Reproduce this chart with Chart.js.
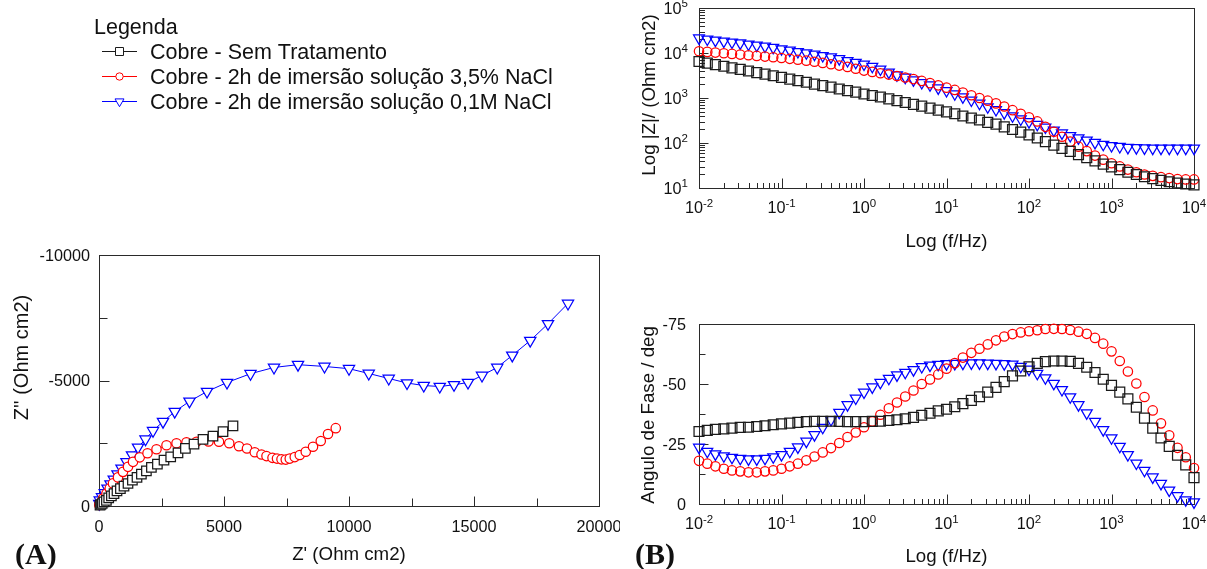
<!DOCTYPE html>
<html lang="pt">
<head>
<meta charset="utf-8">
<title>Cobre - Nyquist e Bode</title>
<script src="https://cdn.jsdelivr.net/npm/chart.js@4.4.1/dist/chart.umd.min.js"></script>
<style>
  html, body { margin: 0; padding: 0; background: #fff; }
  body { width: 1207px; height: 569px; position: relative; overflow: hidden; }
  canvas { position: absolute; display: block; }
</style>
</head>
<body>
<canvas id="nyquist" width="620" height="569" style="left:0;top:0"></canvas>
<canvas id="bodeMod" width="587" height="260" style="left:620px;top:0"></canvas>
<canvas id="bodePhase" width="587" height="269" style="left:620px;top:300px"></canvas>
<script>
// ---------- series ----------
const seriesNames = [
  'Cobre - Sem Tratamento',
  'Cobre - 2h de imersão solução 3,5% NaCl',
  'Cobre - 2h de imersão solução 0,1M NaCl'
];

// frequencies (Hz), 10 points per decade
const freq = [
  0.01, 0.0126, 0.0158, 0.02, 0.0251, 0.0316, 0.0398, 0.0501, 0.0631, 0.0794,
  0.1, 0.126, 0.158, 0.2, 0.251, 0.316, 0.398, 0.501, 0.631, 0.794,
  1, 1.26, 1.58, 2, 2.51, 3.16, 3.98, 5.01, 6.31, 7.94,
  10, 12.6, 15.8, 20, 25.1, 31.6, 39.8, 50.1, 63.1, 79.4,
  100, 126, 158, 200, 251, 316, 398, 501, 631, 794,
  1000, 1260, 1580, 2000, 2510, 3160, 3980, 5010, 6310, 7940,
  10000
];

// |Z| (Ohm cm2)
const modSem = [
  6460, 5960, 5500, 5070, 4680, 4320, 3980, 3670, 3390, 3130,
  2880, 2630, 2430, 2240, 2040, 1880, 1740, 1585, 1460, 1350,
  1230, 1135, 1050, 955, 871, 794, 724, 661, 596, 537,
  490, 447, 398, 359, 324, 288, 263, 229, 200, 174,
  151, 129, 107, 90, 76, 65, 55, 47, 40, 34,
  29.5, 25.7, 22.4, 20.0, 17.8, 16.2, 14.8, 13.8, 12.9, 12.3,
  11.7
];
const modNaCl35 = [
  10960, 10590, 10230, 9890, 9550, 9230, 8910, 8610, 8320, 8040,
  7760, 7410, 7080, 6760, 6380, 6030, 5620, 5250, 4900, 4470,
  4070, 3800, 3550, 3310, 3090, 2850, 2630, 2400, 2140, 1910,
  1700, 1510, 1320, 1150, 1000, 871, 759, 646, 537, 447,
  372, 302, 229, 178, 138, 107, 83, 66, 52.5, 42.7,
  35.5, 30.2, 25.7, 22.4, 20.0, 18.6, 17.4, 16.6, 15.8, 15.5,
  15.5
];
const modNaCl01 = [
  21400, 20200, 19100, 18200, 17400, 16600, 15700, 14800, 14100, 13200,
  12300, 11500, 10700, 10000, 9330, 8710, 8130, 7410, 6760, 6170,
  5620, 5010, 4370, 3720, 3240, 2880, 2510, 2190, 1950, 1660,
  1450, 1230, 1050, 891, 759, 631, 550, 468, 398, 339,
  295, 257, 224, 191, 166, 145, 129, 115, 102, 93,
  87, 83, 79, 78, 77, 76, 76, 76, 76, 76,
  76
];

// phase angle (deg)
const phaseSem = [
  -30.2, -30.7, -31.1, -31.3, -31.6, -31.9, -32.0, -32.3, -32.6, -33.0,
  -33.4, -33.7, -34.0, -34.3, -34.4, -34.5, -34.5, -34.4, -34.3, -34.3,
  -34.3, -34.4, -34.5, -34.8, -35.1, -35.5, -36.1, -37.0, -37.8, -38.8,
  -39.5, -40.5, -41.8, -43.2, -44.7, -46.6, -48.6, -51.0, -53.4, -55.4,
  -57.2, -58.6, -59.3, -59.6, -59.6, -59.4, -58.6, -57.0, -54.8, -52.0,
  -49.4, -46.6, -43.8, -40.3, -35.8, -31.6, -27.5, -24.0, -20.3, -16.3,
  -11.0
];
const phaseNaCl35 = [
  -18.0, -16.8, -15.7, -14.7, -14.0, -13.6, -13.2, -13.2, -13.6, -14.0,
  -14.7, -15.7, -16.8, -18.2, -19.8, -21.5, -23.3, -25.4, -27.9, -29.8,
  -32.0, -34.4, -37.2, -39.9, -42.3, -44.8, -47.3, -50.0, -51.9, -54.0,
  -56.4, -58.7, -61.0, -63.0, -64.7, -66.5, -68.2, -69.8, -70.8, -71.5,
  -72.0, -72.4, -72.9, -73.0, -72.9, -72.5, -71.8, -70.9, -69.2, -66.8,
  -63.6, -59.6, -55.2, -50.2, -44.6, -39.0, -33.6, -28.6, -23.4, -19.5,
  -15.0
];
const phaseNaCl01 = [
  -23.6, -21.9, -20.8, -20.0, -19.4, -19.0, -18.7, -18.7, -19.0, -19.6,
  -20.5, -21.9, -23.7, -26.1, -28.8, -31.9, -35.1, -38.1, -41.3, -44.1,
  -46.6, -48.7, -50.6, -52.3, -53.7, -54.8, -55.9, -57.2, -57.8, -58.1,
  -58.4, -58.5, -58.6, -58.7, -58.7, -58.6, -58.5, -58.4, -58.2, -57.3,
  -56.1, -54.4, -52.5, -50.2, -47.6, -44.6, -41.3, -37.9, -34.4, -30.9,
  -27.5, -24.0, -20.5, -17.0, -14.0, -11.2, -8.5, -5.7, -3.4, -1.7,
  -0.8
];

// Nyquist: Z' and Z'' (Ohm cm2), high to low frequency
const reSem = [40, 80, 130, 200, 296, 388, 496, 600, 720, 856, 1000, 1160, 1336, 1520, 1696, 1896, 2096, 2336, 2600, 2868, 3160, 3456, 3800, 4160, 4560, 4960, 5360];
const imSem = [-30, -60, -100, -160, -228, -320, -400, -496, -600, -696, -788, -896, -1028, -1136, -1268, -1400, -1536, -1668, -1828, -1960, -2120, -2296, -2468, -2656, -2788, -2960, -3188];
const reNaCl35 = [10, 30, 160, 300, 430, 560, 760, 960, 1160, 1360, 1630, 1940, 2300, 2700, 3100, 3500, 3900, 4380, 4800, 5210, 5600, 5920, 6230, 6500, 6700, 6940, 7120, 7300, 7470, 7630, 7830, 8030, 8270, 8560, 8870, 9160, 9470];
const imNaCl35 = [-40, -100, -300, -500, -700, -900, -1140, -1360, -1560, -1760, -1940, -2100, -2260, -2420, -2500, -2540, -2560, -2570, -2560, -2500, -2380, -2290, -2140, -2050, -1990, -1920, -1890, -1860, -1850, -1890, -1950, -2030, -2160, -2360, -2590, -2870, -3100];
const reNaCl01 = [10, 30, 120, 230, 340, 460, 590, 740, 900, 1100, 1320, 1560, 1860, 2160, 2560, 3030, 3620, 4320, 5120, 6060, 7000, 7960, 9020, 10000, 10790, 11590, 12320, 12990, 13630, 14200, 14760, 15320, 15930, 16530, 17250, 17960, 18760];
const imNaCl01 = [-90, -230, -360, -520, -700, -870, -1060, -1270, -1500, -1760, -2030, -2340, -2660, -3000, -3360, -3760, -4170, -4560, -4920, -5270, -5520, -5630, -5560, -5470, -5280, -5080, -4900, -4800, -4760, -4830, -4920, -5200, -5520, -6000, -6590, -7260, -8070];

// axis ticks
const nyqXTicks = [0, 5000, 10000, 15000, 20000];
const nyqYTicks = [0, -5000, -10000];
const freqTicks = [0.01, 0.1, 1, 10, 100, 1000, 10000];
const modTicks = [10, 100, 1000, 10000, 100000];
const phaseTicks = [0, -25, -50, -75];

// ---------- styling ----------
const FAMILY = '"Liberation Sans", Arial, sans-serif';
const AXIS = '#2a2a2a';
const TXT = '#111';
const TICK_FONT = '16.2px ' + FAMILY;
const SUP_FONT = '11.5px ' + FAMILY;
const TITLE_FONT = '18.7px ' + FAMILY;

Chart.defaults.font.family = FAMILY;
Chart.defaults.animation = false;

const STYLES = [
  { color: '#1a1a1a', point: 'rect',     rot: 0,   rNyq: 6.7, rBode: 7.0 },
  { color: '#ff0000', point: 'circle',   rot: 0,   rNyq: 4.7, rBode: 4.7 },
  { color: '#0000ff', point: 'triangle', rot: 180, rNyq: 6.5, rBode: 6.3 }
];

function pts(xs, ys) { return xs.map((x, i) => ({ x: x, y: ys[i] })); }

function dataset(i, data, nyq) {
  const s = STYLES[i];
  return {
    label: seriesNames[i],
    data: data,
    showLine: nyq,
    borderColor: s.color,
    borderWidth: 1,
    pointStyle: s.point,
    pointRotation: s.rot,
    pointRadius: nyq ? s.rNyq : s.rBode,
    pointHoverRadius: nyq ? s.rNyq : s.rBode,
    pointBorderColor: s.color,
    pointBorderWidth: 1.25,
    pointBackgroundColor: nyq ? '#ffffff' : 'rgba(0,0,0,0)',
    clip: false,
    tension: 0
  };
}

function hiddenScale(extra, fit) {
  return Object.assign({
    ticks: { display: false },
    grid: { display: false },
    border: { display: false },
    title: { display: false },
    afterFit: fit
  }, extra);
}

function logMinors(majors) {
  const out = [];
  for (let k = 0; k < majors.length - 1; k++)
    for (let m = 2; m <= 9; m++) out.push(majors[k] * m);
  return out;
}
function midpoints(majors) {
  const s = majors.slice().sort((a, b) => a - b), out = [];
  for (let k = 0; k < s.length - 1; k++) out.push((s[k] + s[k + 1]) / 2);
  return out;
}

// frame box, inward ticks and text drawn from the chart's scales
function decor(cfg) {
  return {
    id: 'decor',
    beforeDatasetsDraw(chart) {
      const { ctx, chartArea: a, scales: { x, y } } = chart;
      const L = Math.round(a.left) + 0.5, R = Math.round(a.right) + 0.5;
      const T = Math.round(a.top) + 0.5, B = Math.round(a.bottom) + 0.5;
      ctx.save();
      ctx.strokeStyle = AXIS;
      ctx.lineWidth = 1;
      ctx.strokeRect(L, T, R - L, B - T);
      ctx.beginPath();
      const tx = (vals, len) => vals.forEach(v => {
        const p = Math.round(x.getPixelForValue(v)) + 0.5;
        ctx.moveTo(p, B); ctx.lineTo(p, B - len);
      });
      const ty = (vals, len) => vals.forEach(v => {
        const p = Math.round(y.getPixelForValue(v)) + 0.5;
        ctx.moveTo(L, p); ctx.lineTo(L + len, p);
      });
      tx(cfg.xMajor, cfg.xMajorLen); tx(cfg.xMinor, cfg.xMinorLen);
      ty(cfg.yMajor, cfg.yMajorLen); ty(cfg.yMinor, cfg.yMinorLen);
      ctx.stroke();
      ctx.restore();
    },
    afterDraw(chart) {
      const ctx = chart.ctx;
      ctx.save();
      ctx.fillStyle = TXT;
      ctx.textBaseline = 'alphabetic';
      cfg.text(chart, ctx);
      ctx.restore();
    }
  };
}

function powerLabel(ctx, value, anchorX, baseline, align) {
  const exp = String(Math.round(Math.log10(value)));
  ctx.font = TICK_FONT; const w1 = ctx.measureText('10').width;
  ctx.font = SUP_FONT; const w2 = ctx.measureText(exp).width;
  const x0 = align === 'center' ? anchorX - (w1 + w2) / 2 : anchorX - (w1 + w2);
  ctx.textAlign = 'left';
  ctx.font = TICK_FONT; ctx.fillText('10', x0, baseline);
  ctx.font = SUP_FONT; ctx.fillText(exp, x0 + w1, baseline - 6.5);
}

function verticalTitle(ctx, text, baseX, centerY, font) {
  ctx.save();
  ctx.translate(baseX, centerY);
  ctx.rotate(-Math.PI / 2);
  ctx.font = font;
  ctx.textAlign = 'center';
  ctx.fillText(text, 0, 0);
  ctx.restore();
}

function drawMarker(ctx, style, x, y, r) {
  ctx.beginPath();
  if (style === 'rect') {
    ctx.rect(x - r, y - r, 2 * r, 2 * r);
  } else if (style === 'circle') {
    ctx.arc(x, y, r, 0, Math.PI * 2);
  } else {
    const h = r * 0.866;
    ctx.moveTo(x, y + r);
    ctx.lineTo(x - h, y - r / 2);
    ctx.lineTo(x + h, y - r / 2);
    ctx.closePath();
  }
}

// legend block at the top-left of the Nyquist canvas
const legendBlock = {
  id: 'legendBlock',
  afterDraw(chart) {
    const ctx = chart.ctx;
    ctx.save();
    ctx.font = '21.5px ' + FAMILY;
    ctx.fillStyle = TXT;
    ctx.textAlign = 'left';
    ctx.textBaseline = 'alphabetic';
    ctx.fillText('Legenda', 94, 33.5);
    const sizes = [4, 3.7, 5.2];
    chart.data.datasets.forEach((d, i) => {
      const base = 58.5 + i * 25;
      const ly = Math.round(base - 7.5) + 0.5;
      ctx.strokeStyle = d.borderColor;
      ctx.lineWidth = 1;
      ctx.beginPath();
      ctx.moveTo(102, ly); ctx.lineTo(137, ly);
      ctx.stroke();
      drawMarker(ctx, d.pointStyle, 119.5, ly, sizes[i]);
      ctx.fillStyle = '#fff';
      ctx.fill();
      ctx.stroke();
      ctx.fillStyle = TXT;
      ctx.fillText(d.label, 150, base);
    });
    ctx.restore();
  }
};

const common = {
  responsive: false,
  animation: false,
  events: [],
  plugins: { legend: { display: false }, tooltip: { enabled: false } }
};

// ---------- (A) Nyquist ----------
new Chart(document.getElementById('nyquist'), {
  type: 'scatter',
  data: {
    datasets: [
      dataset(0, pts(reSem, imSem), true),
      dataset(1, pts(reNaCl35, imNaCl35), true),
      dataset(2, pts(reNaCl01, imNaCl01), true)
    ]
  },
  options: Object.assign({}, common, {
    layout: { autoPadding: false, padding: { left: 0, right: 21, top: 255, bottom: 0 } },
    scales: {
      x: hiddenScale({ type: 'linear', min: 0, max: 20000 }, s => { s.height = 63; }),
      y: hiddenScale({ type: 'linear', min: -10000, max: 0, reverse: true }, s => { s.width = 99; })
    }
  }),
  plugins: [
    decor({
      xMajor: nyqXTicks, xMinor: midpoints(nyqXTicks), xMajorLen: 10, xMinorLen: 8,
      yMajor: nyqYTicks, yMinor: midpoints(nyqYTicks), yMajorLen: 10, yMinorLen: 8,
      text(chart, ctx) {
        const { x, y } = chart.scales;
        ctx.font = TICK_FONT;
        ctx.textAlign = 'right';
        nyqYTicks.forEach(v => ctx.fillText(String(v), 90, y.getPixelForValue(v) + 5.8));
        ctx.textAlign = 'center';
        nyqXTicks.forEach(v => ctx.fillText(String(v), x.getPixelForValue(v), 531.5));
        ctx.font = TITLE_FONT;
        ctx.fillText("Z' (Ohm cm2)", (chart.chartArea.left + chart.chartArea.right) / 2, 560);
        verticalTitle(ctx, "Z'' (Ohm cm2)", 28, 357.5, '20px ' + FAMILY);
        ctx.textAlign = 'left';
        ctx.font = 'bold 30px "Liberation Serif", "Times New Roman", serif';
        ctx.fillText('(A)', 15, 564);
      }
    }),
    legendBlock
  ]
});

// ---------- (B) Bode modulus ----------
new Chart(document.getElementById('bodeMod'), {
  type: 'scatter',
  data: {
    datasets: [
      dataset(0, pts(freq, modSem), false),
      dataset(1, pts(freq, modNaCl35), false),
      dataset(2, pts(freq, modNaCl01), false)
    ]
  },
  options: Object.assign({}, common, {
    layout: { autoPadding: false, padding: { left: 0, right: 13, top: 8, bottom: 0 } },
    scales: {
      x: hiddenScale({ type: 'logarithmic', min: 0.01, max: 10000 }, s => { s.height = 72; }),
      y: hiddenScale({ type: 'logarithmic', min: 10, max: 100000 }, s => { s.width = 79; })
    }
  }),
  plugins: [
    decor({
      xMajor: freqTicks, xMinor: logMinors(freqTicks), xMajorLen: 10, xMinorLen: 5.5,
      yMajor: modTicks, yMinor: logMinors(modTicks), yMajorLen: 9, yMinorLen: 5.5,
      text(chart, ctx) {
        const { x, y } = chart.scales;
        modTicks.forEach(v => powerLabel(ctx, v, 68, y.getPixelForValue(v) + 5.8, 'right'));
        freqTicks.forEach(v => powerLabel(ctx, v, x.getPixelForValue(v), 213, 'center'));
        ctx.font = TITLE_FONT;
        ctx.textAlign = 'center';
        ctx.fillText('Log (f/Hz)', (chart.chartArea.left + chart.chartArea.right) / 2, 246.5);
        verticalTitle(ctx, 'Log |Z|/ (Ohm cm2)', 34.5, 95, TITLE_FONT);
      }
    })
  ]
});

// ---------- (B) Bode phase ----------
new Chart(document.getElementById('bodePhase'), {
  type: 'scatter',
  data: {
    datasets: [
      dataset(0, pts(freq, phaseSem), false),
      dataset(1, pts(freq, phaseNaCl35), false),
      dataset(2, pts(freq, phaseNaCl01), false)
    ]
  },
  options: Object.assign({}, common, {
    layout: { autoPadding: false, padding: { left: 0, right: 13, top: 24, bottom: 0 } },
    scales: {
      x: hiddenScale({ type: 'logarithmic', min: 0.01, max: 10000 }, s => { s.height = 65; }),
      y: hiddenScale({ type: 'linear', min: -75, max: 0, reverse: true }, s => { s.width = 79; })
    }
  }),
  plugins: [
    decor({
      xMajor: freqTicks, xMinor: logMinors(freqTicks), xMajorLen: 10, xMinorLen: 5.5,
      yMajor: phaseTicks, yMinor: midpoints(phaseTicks), yMajorLen: 9, yMinorLen: 6,
      text(chart, ctx) {
        const { x, y } = chart.scales;
        ctx.font = TICK_FONT;
        ctx.textAlign = 'right';
        phaseTicks.forEach(v => ctx.fillText(String(v), 66, y.getPixelForValue(v) + 5.8));
        freqTicks.forEach(v => powerLabel(ctx, v, x.getPixelForValue(v), 229, 'center'));
        ctx.font = TITLE_FONT;
        ctx.textAlign = 'center';
        ctx.fillText('Log (f/Hz)', (chart.chartArea.left + chart.chartArea.right) / 2, 261.5);
        verticalTitle(ctx, 'Angulo de Fase / deg', 33.5, 115, TITLE_FONT);
        ctx.textAlign = 'left';
        ctx.font = 'bold 30px "Liberation Serif", "Times New Roman", serif';
        ctx.fillText('(B)', 15, 263.5);
      }
    })
  ]
});
</script>
</body>
</html>
